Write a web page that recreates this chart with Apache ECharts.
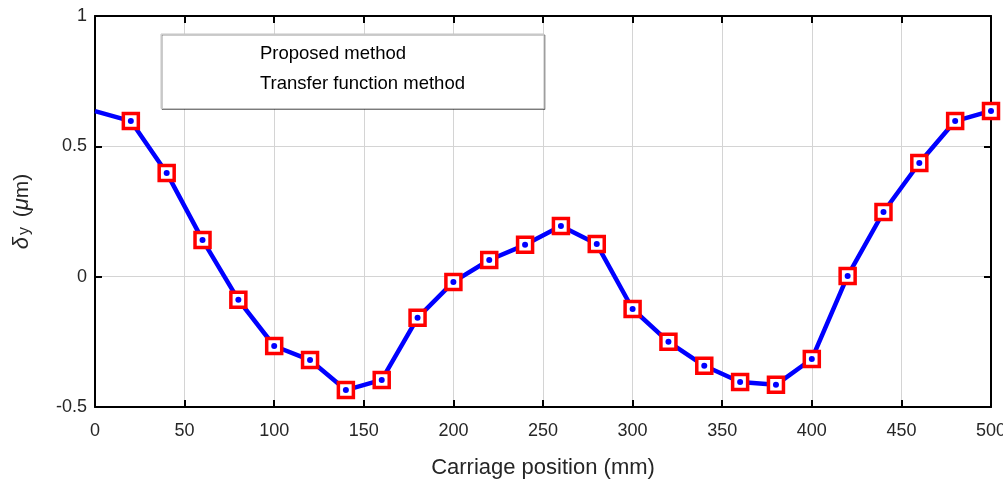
<!DOCTYPE html>
<html>
<head>
	<meta charset="utf-8">
	<title>Carriage position</title>
</head>
<body style="margin:0;">
	<div style="width:1003px;height:480px;" id="chart1"></div>

	<script src="https://cdn.jsdelivr.net/npm/echarts@6/dist/echarts.min.js"></script>
	<script>
	// carriage position (mm)
	var positions = [0, 20, 40, 60, 80, 100, 120, 140, 160, 180, 200, 220, 240, 260, 280, 300, 320, 340, 360, 380, 400, 420, 440, 460, 480, 500];
	// proposed method, um
	var proposed = [0.635, 0.597, 0.398, 0.141, -0.089, -0.266, -0.320, -0.435, -0.396, -0.158, -0.020, 0.064, 0.122, 0.194, 0.125, -0.124, -0.250, -0.342, -0.404, -0.415, -0.316, 0.003, 0.248, 0.436, 0.597, 0.636];
	// transfer function method, um (no point at 0)
	var transferPos = [20, 40, 60, 80, 100, 120, 140, 160, 180, 200, 220, 240, 260, 280, 300, 320, 340, 360, 380, 400, 420, 440, 460, 480, 500];
	var transfer = [0.597, 0.398, 0.141, -0.089, -0.266, -0.320, -0.435, -0.396, -0.158, -0.020, 0.064, 0.122, 0.194, 0.125, -0.124, -0.250, -0.342, -0.404, -0.415, -0.316, 0.003, 0.248, 0.436, 0.597, 0.636];
	var legendNames = ['Proposed method', 'Transfer function method'];

	function pairs(xs, ys) {
		var out = [];
		for (var i = 0; i < xs.length; i++) out.push([xs[i], ys[i]]);
		return out;
	}

	var myChart = echarts.init(document.getElementById('chart1'));
	var font = 'Liberation Sans, Arial, sans-serif';
	var boxLine = { onZero: false, lineStyle: { color: '#000', width: 2 } };
	var tick = { inside: true, length: 7, lineStyle: { color: '#000', width: 2 } };

	var option = {
		animation: false,
		textStyle: { fontFamily: font },
		grid: { left: 95, right: 12, top: 16, bottom: 73, containLabel: false, outerBoundsMode: 'none' },
		legend: {
			data: legendNames,
			orient: 'vertical',
			left: 161,
			top: 34,
			padding: [10, 79, 15, 43],
			itemGap: 11.5,
			itemWidth: 50,
			itemHeight: 10,
			itemStyle: { opacity: 0 },
			lineStyle: { opacity: 0 },
			backgroundColor: '#fff',
			borderColor: '#c4c4c4',
			borderWidth: 1,
			shadowColor: 'rgba(0,0,0,0.4)',
			shadowOffsetX: 1,
			shadowOffsetY: 1,
			shadowBlur: 0,
			textStyle: { fontSize: 18.5, color: '#000', fontFamily: font }
		},
		xAxis: [{
			type: 'value', min: 0, max: 500, interval: 50,
			name: 'Carriage position (mm)', nameLocation: 'middle', nameGap: 50,
			nameTextStyle: { fontSize: 22, color: '#262626' },
			axisLine: boxLine,
			axisTick: tick,
			axisLabel: { fontSize: 18, color: '#262626', margin: 15 },
			splitLine: { lineStyle: { color: '#d4d4d4', width: 1 } }
		}, {
			type: 'value', min: 0, max: 500, interval: 50, position: 'top',
			axisLine: boxLine,
			axisTick: tick,
			axisLabel: { show: false },
			splitLine: { show: false }
		}],
		yAxis: [{
			type: 'value', min: -0.5, max: 1, interval: 0.5,
			name: '{i|δ}{s|y} ({i|μ}m)', nameLocation: 'middle', nameGap: 62, nameRotate: 90,
			nameTextStyle: {
				fontSize: 21, color: '#262626',
				rich: {
					i: { fontSize: 22, fontStyle: 'italic', color: '#262626' },
					s: { fontSize: 16, color: '#262626', verticalAlign: 'bottom', padding: [0, 4, 0, 2] }
				}
			},
			axisLine: boxLine,
			axisTick: tick,
			axisLabel: { fontSize: 18, color: '#262626', margin: 8 },
			splitLine: { lineStyle: { color: '#d4d4d4', width: 1 } }
		}, {
			type: 'value', min: -0.5, max: 1, interval: 0.5, position: 'right',
			axisLine: boxLine,
			axisTick: tick,
			axisLabel: { show: false },
			splitLine: { show: false }
		}],
		series: [{
			name: 'Proposed method',
			type: 'line',
			data: pairs(positions, proposed),
			showSymbol: false,
			lineStyle: { color: '#0000ff', width: 4.5 },
			itemStyle: { color: '#0000ff' },
			z: 2
		}, {
			name: 'Transfer function method',
			type: 'scatter',
			data: pairs(transferPos, transfer),
			symbol: 'rect',
			symbolSize: 15,
			clip: false,
			itemStyle: { color: '#fff', borderColor: '#ff0000', borderWidth: 3.5, opacity: 1 },
			z: 3
		}, {
			name: 'dots',
			type: 'scatter',
			data: pairs(transferPos, transfer),
			symbol: 'circle',
			symbolSize: 6,
			clip: false,
			itemStyle: { color: '#0000ff', opacity: 1 },
			z: 4
		}]
	};

	myChart.setOption(option);
	</script>
</body>
</html>
